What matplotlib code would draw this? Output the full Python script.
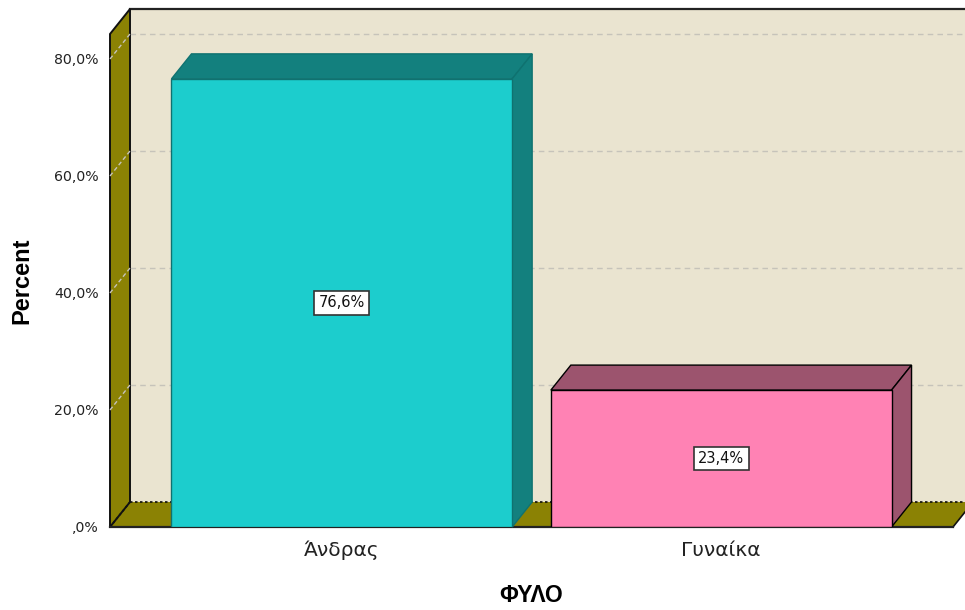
import matplotlib
matplotlib.use("Agg")
import matplotlib.pyplot as plt
from matplotlib.patches import Polygon, Rectangle

# ---- data ----
categories = ['Άνδρας', 'Γυναίκα']
percent = [76.6, 23.4]
value_labels = ['76,6%', '23,4%']
yticks = [0, 20, 40, 60, 80]
ytick_labels = [',0%', '20,0%', '40,0%', '60,0%', '80,0%']
x_title = 'ΦΥΛΟ'
y_title = 'Percent'

front_colors = ['#1CCDCD', '#FF82B4']
side_colors = ['#13807E', '#9C546E']
edge_colors = ['#0F7270', '#000000']
wall_color = '#EAE4D0'
olive = '#8B8204'
grid_color = '#C6C3BA'

W, H = 965, 610
fig = plt.figure(figsize=(W / 100, H / 100), dpi=100)
ax = fig.add_axes([110 / W, 83 / H, 843 / W, 493 / H])
x0, x1 = -0.611, 1.611
ymax = 84.27
ax.set_xlim(x0, x1)
ax.set_ylim(0, ymax)
for s in ax.spines.values():
    s.set_visible(False)

# depth offset expressed in data units
dx = 20 * (x1 - x0) / 843
dy = 25 * ymax / 493

# back wall
ax.add_patch(Rectangle((x0 + dx, dy), (x1 - x0), ymax, fc=wall_color, ec='none',
                       zorder=0, clip_on=False))
ax.plot([x0 + dx, x1 + dx + 0.1], [ymax + dy, ymax + dy], color='#222222', lw=1.6,
        zorder=1, clip_on=False)
# gridlines on back wall + left wall
for t in yticks[1:]:
    ax.plot([x0 + dx, x1 + dx + 0.1], [t + dy, t + dy], ls=(0, (4, 3)), color=grid_color,
            lw=1, zorder=1, clip_on=False)

# floor
ax.add_patch(Polygon([(x0, 0), (x1, 0), (x1 + dx, dy), (x0 + dx, dy)], closed=True,
                     fc=olive, ec='none', zorder=1, clip_on=False))
ax.plot([x0 + dx, x1 + dx], [dy, dy], ls=(0, (1.5, 1.5)), color='#111111', lw=1.2,
        zorder=1.5, clip_on=False)
ax.plot([x1, x1 + dx], [0, dy], color='#111111', lw=1.2, zorder=1.5, clip_on=False)

# left wall
ax.add_patch(Polygon([(x0, 0), (x0, ymax), (x0 + dx, ymax + dy), (x0 + dx, dy)],
                     closed=True, fc=olive, ec='#111111', lw=1.4, zorder=2, clip_on=False))
for t in yticks[1:]:
    ax.plot([x0, x0 + dx], [t, t + dy], ls=(0, (3, 2)), color=grid_color, lw=1,
            zorder=2.5, clip_on=False)
ax.plot([x0, x0 + dx], [0, dy], ls=(0, (1.5, 1.5)), color='#111111', lw=1.2,
        zorder=2.5, clip_on=False)
ax.plot([x0, x1], [0, 0], color='#222222', lw=1.6, zorder=2.5, clip_on=False)

# bars
width = 0.898
xs = list(range(len(categories)))
bars = ax.bar(xs, percent, width=width, color=front_colors, edgecolor=edge_colors,
              linewidth=1, zorder=4)
for i, (b, h) in enumerate(zip(bars, percent)):
    l = b.get_x()
    r = l + b.get_width()
    ax.add_patch(Polygon([(l, h), (r, h), (r + dx, h + dy), (l + dx, h + dy)], closed=True,
                         fc=side_colors[i], ec=edge_colors[i], lw=1, zorder=3.5 + i,
                         clip_on=False))
    ax.add_patch(Polygon([(r, 0), (r, h), (r + dx, h + dy), (r + dx, dy)], closed=True,
                         fc=side_colors[i], ec=edge_colors[i], lw=1, zorder=3.5 + i,
                         clip_on=False))
    b.set_zorder(4 + i)
    ax.text(xs[i], h / 2, value_labels[i], ha='center', va='center', fontsize=10.5,
            family='DejaVu Sans', color='#111111', zorder=6,
            bbox=dict(boxstyle='square,pad=0.3', fc='white', ec='#333333', lw=1.2))

ax.set_yticks(yticks, ytick_labels)
ax.set_xticks(xs, categories)
ax.tick_params(axis='y', length=0, pad=8, labelsize=10.2, labelcolor='#222222')
ax.tick_params(axis='x', length=0, pad=10, labelsize=14.5, labelcolor='#222222')
for lab in ax.get_yticklabels() + ax.get_xticklabels():
    lab.set_family('DejaVu Sans')

fig.text(22 / W, 1 - 281 / H, y_title, rotation=90, ha='center', va='center',
         fontsize=17, fontweight='bold', family='Liberation Sans')
fig.text(531 / W, 1 - 596 / H, x_title, ha='center', va='center',
         fontsize=16.5, fontweight='bold', family='Liberation Sans')

fig.savefig('out.png', dpi=100)
